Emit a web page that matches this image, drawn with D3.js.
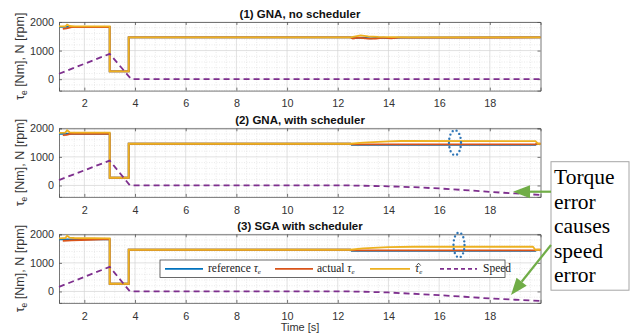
<!DOCTYPE html>
<html><head><meta charset="utf-8">
<script src="https://cdn.jsdelivr.net/npm/d3@7"></script>
<style>body{margin:0;background:#fff}</style>
</head><body><svg id="c" width="641" height="333"></svg>
<script>
// ---------- data ----------
const xTicks = [2,4,6,8,10,12,14,16,18];
const yTicks = [0,1000,2000];
const titles = ["(1) GNA, no scheduler","(2) GNA, with scheduler","(3) SGA with scheduler"];
const seriesNames = ["reference", "actual", "estimate", "Speed"];

// panel 1 : GNA, no scheduler
const p1Ref = [[1,1830],[3,1830],[3,270],[3.75,270],[3.75,1460],[12.5,1460],[12.7,1440],[13.0,1450],[13.3,1430],[13.6,1450],[14.0,1440],[14.5,1455],[20,1460]];
const p1Act = [[1.15,1760],[1.3,1780],[1.5,1820],[3,1825],[3,270],[3.75,270],[3.75,1460],[12.5,1460],[12.6,1420],[12.8,1450],[13.2,1420],[13.5,1420],[13.8,1450],[14.1,1430],[14.4,1455],[14.8,1450],[20,1460]];
const p1Est = [[1,1845],[1.25,1850],[1.32,1910],[1.42,1860],[1.6,1850],[3,1850],[3,270],[3.75,270],[3.75,1460],[12.5,1460],[12.7,1500],[12.9,1530],[13.2,1500],[13.6,1480],[14.2,1470],[14.8,1460],[20,1460]];
const p1Spd = [[1,190],[3,885],[3.85,0],[20,0]];

// panel 2 : GNA, with scheduler
const p2Ref = [[1,1810],[3,1810],[3,270],[3.75,270],[3.75,1460],[12.5,1460],[12.55,1420],[19.8,1420],[19.85,1455],[20,1455]];
const p2Act = [[1.15,1760],[1.3,1770],[1.5,1810],[3,1815],[3,270],[3.75,270],[3.75,1460],[12.5,1460],[12.55,1440],[19.8,1440],[19.85,1460],[20,1460]];
const p2Est = [[1,1840],[1.25,1850],[1.32,1930],[1.42,1860],[1.6,1850],[3,1850],[3,270],[3.75,270],[3.75,1460],[12.5,1460],[13,1500],[14,1540],[14.5,1555],[19.8,1550],[19.9,1460],[20,1460]];
const p2Spd = [[1,190],[3,870],[3.8,0],[12.5,0],[13,-10],[14,-30],[15,-60],[16,-105],[17,-160],[18,-225],[19,-280],[20,-330]];

// panel 3 : SGA with scheduler
const p3Ref = [[1,1820],[3,1820],[3,270],[3.75,270],[3.75,1460],[12.5,1460],[12.55,1420],[19.8,1420],[19.85,1455],[20,1455]];
const p3Act = [[1.15,1770],[1.5,1790],[2.2,1810],[3,1830],[3,270],[3.75,270],[3.75,1460],[12.5,1460],[12.55,1440],[19.8,1440],[19.85,1460],[20,1460]];
const p3Est = [[1,1860],[1.25,1870],[1.32,1950],[1.42,1880],[1.6,1870],[3,1860],[3,270],[3.75,270],[3.75,1460],[12.5,1460],[13,1510],[14,1550],[15,1565],[19.7,1565],[19.8,1460],[20,1460]];
const p3Spd = [[1,160],[3,860],[3.8,0],[12.5,0],[13,-10],[14,-35],[15,-80],[16,-130],[17,-185],[18,-245],[19,-290],[20,-330]];

const panels = [
  [p1Ref,p1Act,p1Est,p1Spd],
  [p2Ref,p2Act,p2Est,p2Spd],
  [p3Ref,p3Act,p3Est,p3Spd]
];
const annotationLines = ["Torque","error","causes","speed","error"];

// ---------- layout / style ----------
const colors = ["#0072BD","#D95319","#EDB120","#7E2F8E"];
const left = 59, right = 540.5, ph = 68.6;
const tops = [22, 128.3, 234.3];
const svg = d3.select("#c");
const x = d3.scaleLinear().domain([1,20]).range([left,right]);
const sans = "'Liberation Sans', Arial, sans-serif";
const serif = "'Liberation Serif', 'Times New Roman', serif";

panels.forEach((series, i) => {
  const top = tops[i], bot = top + ph;
  const y = d3.scaleLinear().domain([-400,2000]).range([bot, top]);
  const g = svg.append("g");
  // minor grid
  d3.range(1.2, 20, 0.4).forEach(v => {
    if (xTicks.some(t => Math.abs(t - v) < 1e-6)) return;
    g.append("line").attr("x1",x(v)).attr("x2",x(v)).attr("y1",top).attr("y2",bot)
      .attr("stroke","#dcdcdc").attr("stroke-width",0.6).attr("stroke-dasharray","1,1.5");
  });
  d3.range(-400, 2000, 200).forEach(v => {
    if (yTicks.includes(v)) return;
    g.append("line").attr("x1",left).attr("x2",right).attr("y1",y(v)).attr("y2",y(v))
      .attr("stroke","#dcdcdc").attr("stroke-width",0.6).attr("stroke-dasharray","1,1.5");
  });
  // major grid
  xTicks.forEach(v => g.append("line").attr("x1",x(v)).attr("x2",x(v)).attr("y1",top).attr("y2",bot)
      .attr("stroke","#d4d4d4").attr("stroke-width",0.7));
  yTicks.forEach(v => g.append("line").attr("x1",left).attr("x2",right).attr("y1",y(v)).attr("y2",y(v))
      .attr("stroke","#d4d4d4").attr("stroke-width",0.7));

  // axes
  const xa = g.append("g").attr("transform",`translate(0,${bot})`)
    .call(d3.axisBottom(x).tickValues(xTicks).tickSize(-3).tickPadding(9).tickFormat(d3.format("d")));
  const xt = g.append("g").attr("transform",`translate(0,${top})`)
    .call(d3.axisTop(x).tickValues(xTicks).tickSize(-3).tickFormat(""));
  const ya = g.append("g").attr("transform",`translate(${left},0)`)
    .call(d3.axisLeft(y).tickValues(yTicks).tickSize(-3).tickPadding(5).tickFormat(d3.format("d")));
  const yr = g.append("g").attr("transform",`translate(${right},0)`)
    .call(d3.axisRight(y).tickValues(yTicks).tickSize(-3).tickFormat(""));
  [xa,xt,ya,yr].forEach(a => {
    a.selectAll(".domain").attr("stroke","#555").attr("stroke-width",0.8);
    a.selectAll(".tick line").attr("stroke","#555").attr("stroke-width",0.8);
    a.selectAll("text").attr("font-family",sans).attr("font-size","10.8px").attr("fill","#333");
  });

  // lines
  const line = d3.line().x(d => x(d[0])).y(d => y(d[1]));
  series.forEach((s, k) => {
    g.append("path").datum(s).attr("d", line).attr("fill","none")
      .attr("stroke", colors[k]).attr("stroke-width", 1.8)
      .attr("stroke-dasharray", k === 3 ? "6,4" : null);
  });

  // title
  svg.append("text").attr("x",300).attr("y",top-4).attr("text-anchor","middle")
    .attr("font-family",sans).attr("font-size","11.5px").attr("font-weight","bold").attr("fill","#111")
    .text(titles[i]);

  // y label
  const yl = svg.append("text").attr("transform",`translate(24,${(top+bot)/2}) rotate(-90)`)
    .attr("text-anchor","middle").attr("font-family",sans).attr("font-size","12.5px").attr("fill","#333");
  yl.append("tspan").text("τ");
  yl.append("tspan").attr("font-size","8.5px").attr("dy","3").text("e");
  yl.append("tspan").attr("dy","-3").text(" [Nm], N [rpm]");
});

// x label
svg.append("text").attr("x",300).attr("y",331).attr("text-anchor","middle")
  .attr("font-family",sans).attr("font-size","11px").attr("fill","#333").text("Time [s]");

// dotted ellipses
[[455,142.7,6,12.5],[459,245,5.5,12.5]].forEach(e => {
  svg.append("ellipse").attr("cx",e[0]).attr("cy",e[1]).attr("rx",e[2]).attr("ry",e[3])
    .attr("fill","none").attr("stroke","#2e75b6").attr("stroke-width",2.4)
    .attr("stroke-linecap","round").attr("stroke-dasharray","0,4.2");
});

// legend
const lg = svg.append("g");
lg.append("rect").attr("x",160).attr("y",260).attr("width",345).attr("height",17.5)
  .attr("fill","#fff").attr("stroke","#444").attr("stroke-width",0.8);
const ly = 268.8;
const legendPos = [[165,203,208],[275,313,317],[370,410,415],[440,477,483]];
legendPos.forEach((p,k) => {
  lg.append("line").attr("x1",p[0]).attr("x2",p[1]).attr("y1",ly).attr("y2",ly)
    .attr("stroke",colors[k]).attr("stroke-width",1.8).attr("stroke-dasharray",k===3?"4,3":null);
  const t = lg.append("text").attr("x",p[2]).attr("y",ly+3.5).attr("font-family",serif)
    .attr("font-size","11.5px").attr("fill","#222");
  if (k === 0 || k === 1) {
    t.append("tspan").text(k===0 ? "reference " : "actual ");
    t.append("tspan").attr("font-style","italic").text("τ");
    t.append("tspan").attr("font-style","italic").attr("font-size","7px").attr("dy","2").text("e");
  } else if (k === 2) {
    t.append("tspan").attr("font-style","italic").text("τ");
    t.append("tspan").attr("font-style","italic").attr("font-size","7px").attr("dy","2").text("e");
    // hat accent drawn as a small caret
    lg.append("path").attr("d",`M${p[2]+1.5},${ly-3.2}L${p[2]+3.6},${ly-5.6}L${p[2]+5.7},${ly-3.2}`)
      .attr("fill","none").attr("stroke","#222").attr("stroke-width",0.8);
  } else {
    t.text(seriesNames[3]);
  }
});

// annotation box
svg.append("rect").attr("x",551).attr("y",161.7).attr("width",78).attr("height",128.5)
  .attr("fill","#fff").attr("stroke","#a6a6a6").attr("stroke-width",1);
annotationLines.forEach((s,k) => {
  svg.append("text").attr("x",554).attr("y",184 + k*24.5).attr("font-family",serif)
    .attr("font-size","21.5px").attr("fill","#000").text(s);
});

// green arrows
function arrow(x1,y1,x2,y2){
  const ang = Math.atan2(y2-y1,x2-x1), L = 17, W = 6.5;
  const bx = x2 - L*Math.cos(ang), by = y2 - L*Math.sin(ang);
  svg.append("line").attr("x1",x1).attr("y1",y1).attr("x2",bx).attr("y2",by)
    .attr("stroke","#70ad47").attr("stroke-width",2.2);
  const px = -Math.sin(ang)*W, py = Math.cos(ang)*W;
  svg.append("path").attr("d",`M${x2},${y2}L${bx+px},${by+py}L${bx-px},${by-py}Z`).attr("fill","#70ad47");
}
arrow(551,191.7,513,191.7);
arrow(551,245,511,295);
</script></body></html>
